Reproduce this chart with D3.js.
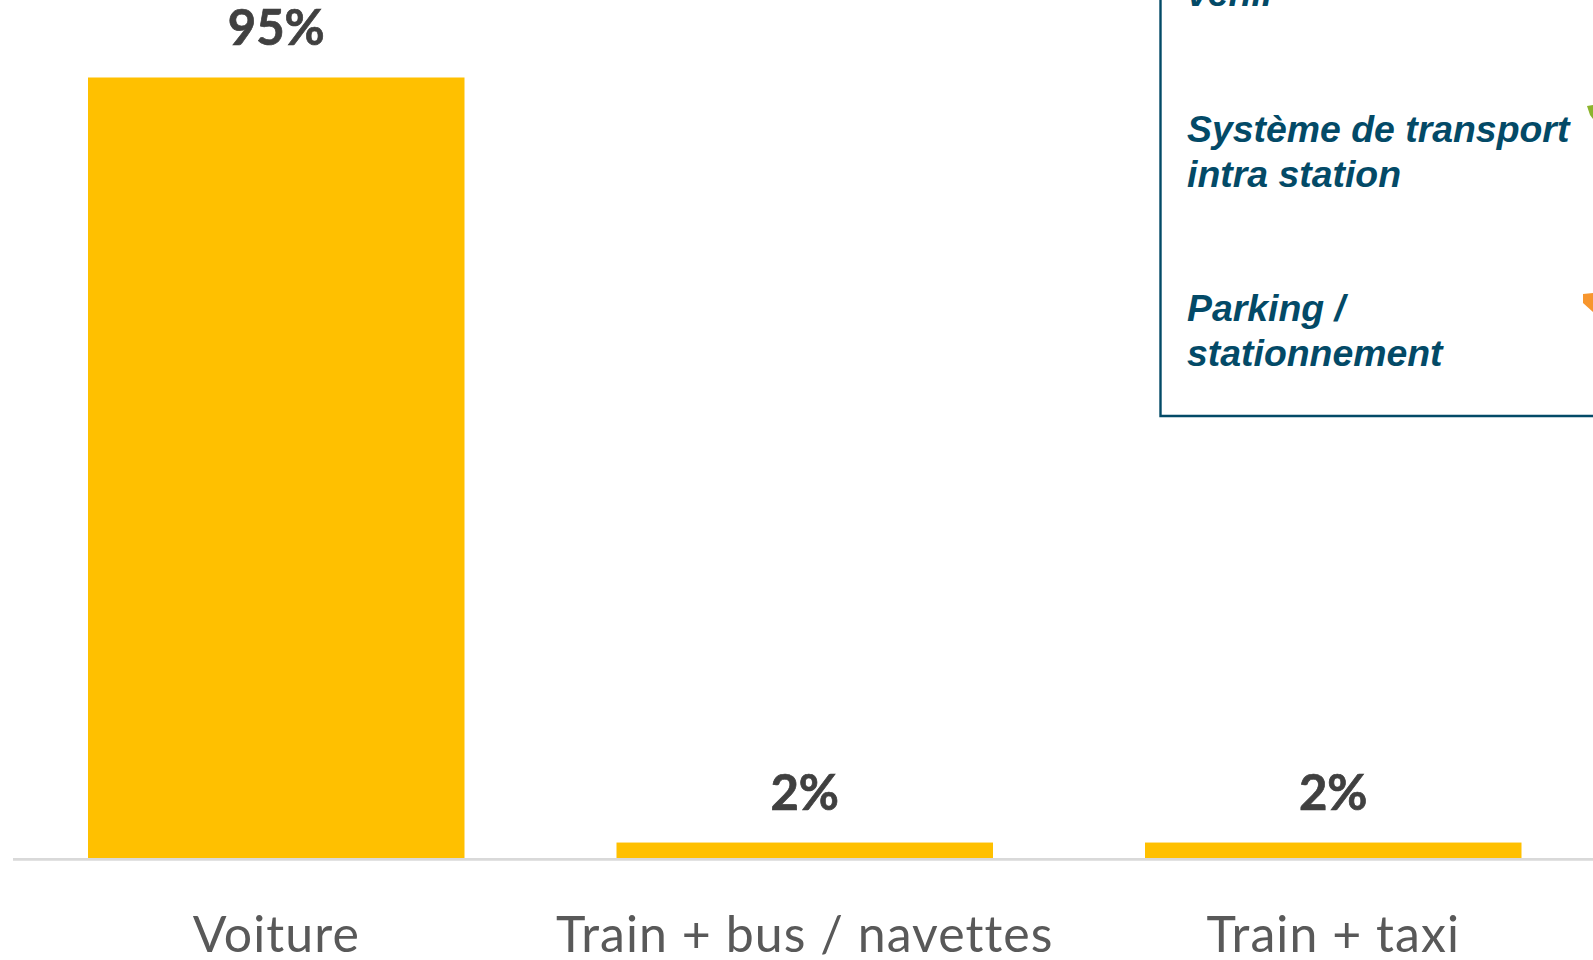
<!DOCTYPE html>
<html lang="fr">
<head>
<meta charset="utf-8">
<title>Modes de transport</title>
<script src="https://cdn.jsdelivr.net/npm/d3@7/dist/d3.min.js"></script>
<style>
  html, body { margin: 0; padding: 0; background: #fff; overflow: hidden; }
  svg { display: block; }
</style>
</head>
<body>
<svg id="chart" width="1593" height="960"></svg>
<script>
// Parts modales, en pourcentage
const categories = ["Voiture", "Train + bus / navettes", "Train + taxi"];
const shares = [95, 2, 2];

// Critères listés dans l'encadré, ligne par ligne
const criteriaLines = [
  "venir",
  "Système de transport", "intra station",
  "Parking /", "stationnement"
];

const svg = d3.select("#chart");
const plot = { left: 13, top: 77.5, bottom: 859 };

const x = d3.scaleBand()
  .domain(categories)
  .range([12, 1597.5])
  .paddingInner(0.2876)
  .paddingOuter(0.1438);

const y = d3.scaleLinear().domain([0, 95]).range([plot.bottom, plot.top]);

// Barres
svg.append("g").selectAll("rect")
  .data(shares)
  .join("rect")
  .attr("x", (d, i) => x(categories[i]))
  .attr("y", d => y(d))
  .attr("width", x.bandwidth())
  .attr("height", d => y(0) - y(d))
  .attr("fill", "#ffc000");

// Ligne de base
svg.append("line")
  .attr("x1", plot.left).attr("x2", 1593)
  .attr("y1", plot.bottom + 0.3).attr("y2", plot.bottom + 0.3)
  .attr("stroke", "#d9d9d9").attr("stroke-width", 2.7);

// Valeurs au-dessus des barres
svg.append("g").selectAll("text")
  .data(shares)
  .join("text")
  .attr("x", (d, i) => x(categories[i]) + x.bandwidth() / 2)
  .attr("y", d => y(d) - 33)
  .attr("text-anchor", "middle")
  .attr("font-family", "Lato")
  .attr("font-weight", 700)
  .attr("font-size", 49)
  .attr("fill", "#404040")
  .attr("stroke", "#404040")
  .attr("stroke-width", 0.7)
  .text(d => d + "%");

// Libellés de l'axe
svg.append("g").selectAll("text")
  .data(categories)
  .join("text")
  .attr("x", d => x(d) + x.bandwidth() / 2)
  .attr("y", 951.5)
  .attr("text-anchor", "middle")
  .attr("font-family", "Lato")
  .attr("font-size", 50)
  .attr("letter-spacing", 1.05)
  .attr("fill", "#595959")
  .text(d => d);

// Encadré des critères, ouvert en haut et à droite
svg.append("path")
  .attr("d", d3.line()([[1160.5, 0], [1160.5, 416], [1593, 416]]))
  .attr("fill", "none")
  .attr("stroke", "#034a67")
  .attr("stroke-width", 2.4);

const lineBaselines = [6, 142, 187, 321, 366];
svg.append("g").selectAll("text")
  .data(criteriaLines)
  .join("text")
  .attr("x", 1187)
  .attr("y", (d, i) => lineBaselines[i])
  .attr("font-family", "Liberation Sans")
  .attr("font-weight", 700)
  .attr("font-style", "italic")
  .attr("font-size", 37.4)
  .attr("fill", "#034a67")
  .text(d => d);

// Flèches d'évaluation, coupées par le bord droit
const arrows = [
  { color: "#8cb42d", points: [[1587, 106], [1593, 105], [1593, 119], [1590, 115]] },
  { color: "#f7962e", points: [[1583, 294], [1593, 293], [1593, 312], [1583, 303]] }
];
svg.append("g").selectAll("path")
  .data(arrows)
  .join("path")
  .attr("d", d => d3.line()(d.points) + "Z")
  .attr("fill", d => d.color);
</script>
</body>
</html>
